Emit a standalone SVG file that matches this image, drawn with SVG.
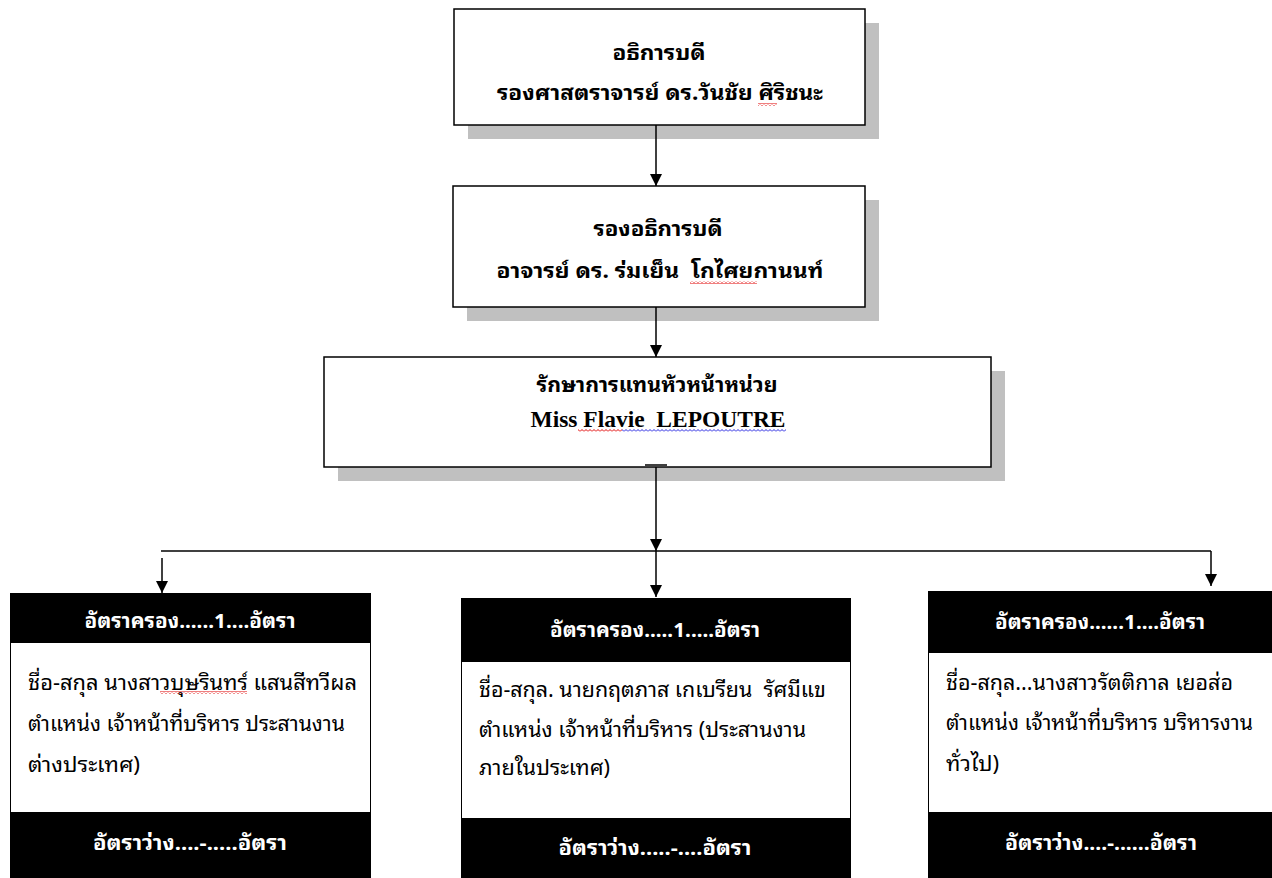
<svg xmlns="http://www.w3.org/2000/svg" width="1272" height="878" viewBox="0 0 1272 878">
<defs>
<style>
.box{fill:#fff;stroke:#000;stroke-width:1.5}
.shadow{fill:#c0c0c0}
.blk{fill:#000}
.wht{fill:#fff}
.th{font-family:"Noto Sans Thai Looped","Noto Sans Thai","Noto Sans","DejaVu Sans",sans-serif;font-size:21px;fill:#000;white-space:pre}
.thb{font-family:"Noto Sans Thai Looped","Noto Sans Thai","Noto Sans","DejaVu Sans",sans-serif;font-size:21px;font-weight:bold;fill:#000;white-space:pre}
.hd{font-family:"Noto Sans Thai Looped","Noto Sans Thai","Noto Sans","DejaVu Sans",sans-serif;font-size:20px;font-weight:bold;fill:#fff;white-space:pre}
.en{font-family:"Liberation Serif","Times New Roman",serif;font-size:23px;font-weight:bold;fill:#000;white-space:pre}
.ln{stroke:#000;stroke-width:1.5;fill:none}
</style>
<marker id="arr" viewBox="0 0 12 12" refX="12" refY="6" markerWidth="12" markerHeight="12" markerUnits="userSpaceOnUse" orient="auto">
<path d="M0,0 L12,6 L0,12 Z" fill="#000"/>
</marker>
<pattern id="wr" width="4" height="3" patternUnits="userSpaceOnUse"><path d="M0,2.5 L2,0.5 L4,2.5" stroke="#e00000" stroke-width="1" fill="none"/></pattern>
<pattern id="wb" width="4" height="3" patternUnits="userSpaceOnUse"><path d="M0,2.5 L2,0.5 L4,2.5" stroke="#2020e0" stroke-width="1" fill="none"/></pattern>
</defs>

<g id="president">
<rect class="shadow" x="468" y="23" width="411" height="116"/>
<rect class="box" x="454" y="9" width="411" height="116"/>
<text class="thb" x="659" y="60" text-anchor="middle" textLength="93" lengthAdjust="spacingAndGlyphs">อธิการบดี</text>
<text class="thb" x="660" y="100" text-anchor="middle" textLength="326" lengthAdjust="spacingAndGlyphs">รองศาสตราจารย์ ดร.วันชัย ศิริชนะ</text>
<rect x="758" y="103" width="19" height="3" fill="url(#wr)"/>
</g>

<g id="vice-president">
<rect class="shadow" x="467" y="200" width="412" height="121"/>
<rect class="box" x="453" y="186" width="412" height="121"/>
<text class="thb" x="658" y="236" text-anchor="middle" textLength="129" lengthAdjust="spacingAndGlyphs">รองอธิการบดี</text>
<text class="thb" x="660" y="278" text-anchor="middle" textLength="327" lengthAdjust="spacingAndGlyphs" xml:space="preserve">อาจารย์ ดร. ร่มเย็น  โกไศยกานนท์</text>
<rect x="690" y="281" width="67" height="3" fill="url(#wr)"/>
</g>

<g id="acting-head">
<rect class="shadow" x="338" y="371" width="667" height="110"/>
<rect class="box" x="324" y="357" width="667" height="110"/>
<text class="thb" x="657" y="392" text-anchor="middle" textLength="241" lengthAdjust="spacingAndGlyphs">รักษาการแทนหัวหน้าหน่วย</text>
<text class="en" x="658" y="427" text-anchor="middle" textLength="255" lengthAdjust="spacingAndGlyphs" xml:space="preserve">Miss Flavie  LEPOUTRE</text>
<rect x="578" y="429" width="44" height="3" fill="url(#wr)"/>
<rect x="622" y="429" width="164" height="3" fill="url(#wb)"/>
<line class="ln" x1="645" y1="465" x2="667" y2="465"/>
</g>

<g id="staff-1">
<rect class="blk" x="10" y="593" width="361" height="285"/>
<rect class="wht" x="11" y="643" width="359" height="169"/>
<text class="hd" x="190" y="628" text-anchor="middle" textLength="211" lengthAdjust="spacingAndGlyphs">อัตราครอง......1....อัตรา</text>
<text class="th" x="28" y="690" textLength="329" lengthAdjust="spacingAndGlyphs">ชื่อ-สกุล นางสาวบุษรินทร์ แสนสีทวีผล</text>
<text class="th" x="28" y="731" textLength="317" lengthAdjust="spacingAndGlyphs">ตำแหน่ง เจ้าหน้าที่บริหาร ประสานงาน</text>
<text class="th" x="28" y="772" textLength="112" lengthAdjust="spacingAndGlyphs">ต่างประเทศ)</text>
<rect x="160" y="691" width="87" height="3" fill="url(#wr)"/>
<text class="hd" x="190" y="850" text-anchor="middle" textLength="194" lengthAdjust="spacingAndGlyphs">อัตราว่าง....-.....อัตรา</text>
</g>

<g id="staff-2">
<rect class="blk" x="461" y="598" width="390" height="280"/>
<rect class="wht" x="462" y="662" width="388" height="156"/>
<text class="hd" x="655" y="637" text-anchor="middle" textLength="210" lengthAdjust="spacingAndGlyphs">อัตราครอง.....1.....อัตรา</text>
<text class="th" x="479" y="697" textLength="347" lengthAdjust="spacingAndGlyphs" xml:space="preserve">ชื่อ-สกุล. นายกฤตภาส เกเบรียน  รัศมีแข</text>
<text class="th" x="479" y="737" textLength="327" lengthAdjust="spacingAndGlyphs">ตำแหน่ง เจ้าหน้าที่บริหาร (ประสานงาน</text>
<text class="th" x="479" y="775" textLength="131" lengthAdjust="spacingAndGlyphs">ภายในประเทศ)</text>
<text class="hd" x="655" y="855" text-anchor="middle" textLength="193" lengthAdjust="spacingAndGlyphs">อัตราว่าง.....-....อัตรา</text>
</g>

<g id="staff-3">
<rect class="blk" x="928" y="591" width="350" height="287"/>
<rect class="wht" x="929" y="653" width="349" height="159"/>
<text class="hd" x="1100" y="629" text-anchor="middle" textLength="210" lengthAdjust="spacingAndGlyphs">อัตราครอง......1....อัตรา</text>
<text class="th" x="946" y="690" textLength="287" lengthAdjust="spacingAndGlyphs">ชื่อ-สกุล...นางสาวรัตติกาล เยอส่อ</text>
<text class="th" x="946" y="730" textLength="307" lengthAdjust="spacingAndGlyphs">ตำแหน่ง เจ้าหน้าที่บริหาร บริหารงาน</text>
<text class="th" x="946" y="771" textLength="53" lengthAdjust="spacingAndGlyphs">ทั่วไป)</text>
<text class="hd" x="1101" y="850" text-anchor="middle" textLength="192" lengthAdjust="spacingAndGlyphs">อัตราว่าง....-......อัตรา</text>
</g>

<g id="connectors">
<line class="ln" x1="656" y1="125" x2="656" y2="186" marker-end="url(#arr)"/>
<line class="ln" x1="656" y1="307" x2="656" y2="357" marker-end="url(#arr)"/>
<line class="ln" x1="656" y1="467" x2="656" y2="551" marker-end="url(#arr)"/>
<line class="ln" x1="161" y1="551" x2="1211" y2="551"/>
<line class="ln" x1="656" y1="551" x2="656" y2="597" marker-end="url(#arr)"/>
<line class="ln" x1="162" y1="558" x2="162" y2="593" marker-end="url(#arr)"/>
<line class="ln" x1="1211" y1="551" x2="1211" y2="586" marker-end="url(#arr)"/>
</g>
</svg>
